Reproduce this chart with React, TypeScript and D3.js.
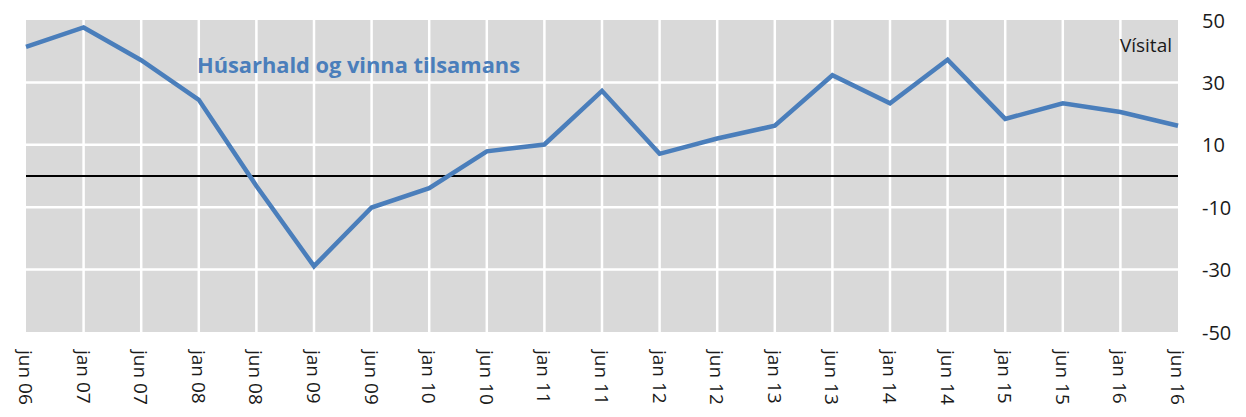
import React from 'react'
import * as d3 from 'd3'

// Vísital, hálvárligar mátingar
const categories = [
  'jun 06', 'jan 07', 'jun 07', 'jan 08', 'jun 08', 'jan 09', 'jun 09',
  'jan 10', 'jun 10', 'jan 11', 'jun 11', 'jan 12', 'jun 12', 'jan 13',
  'jun 13', 'jan 14', 'jun 14', 'jan 15', 'jun 15', 'jan 16', 'jun 16',
]
const values = [
  41.4, 47.6, 37.1, 24.4, -3.2, -28.9, -10.1,
  -3.9, 7.9, 10.1, 27.3, 7.1, 12.0, 16.1,
  32.3, 23.3, 37.3, 18.3, 23.3, 20.5, 16.1,
]
const yTicks = [50, 30, 10, -10, -30, -50]
const seriesLabel = 'Húsarhald og vinna tilsamans'
const unitLabel = 'Vísital'

const W = 1246
const H = 417
const plot = { left: 26, right: 1178, top: 20, bottom: 332 }
const font = '"Open Sans", "Liberation Sans", sans-serif'

export default function App() {
  const x = d3.scalePoint<string>().domain(categories).range([plot.left, plot.right])
  const y = d3.scaleLinear().domain([-50, 50]).range([plot.bottom, plot.top])

  const line = d3
    .line<number>()
    .x((_, i) => x(categories[i]) as number)
    .y((d) => y(d))

  return (
    <svg
      width={W}
      height={H}
      style={{ position: 'absolute', left: 0, top: 0, background: '#fff' }}
    >
      {/* plot background */}
      <rect
        x={plot.left}
        y={plot.top}
        width={plot.right - plot.left}
        height={plot.bottom - plot.top}
        fill="#d9d9d9"
      />

      {/* white grid */}
      <g stroke="#ffffff" strokeWidth={2.5}>
        {yTicks.slice(1, -1).map((t) => (
          <line key={t} x1={plot.left} x2={plot.right} y1={y(t)} y2={y(t)} />
        ))}
        {categories.slice(1, -1).map((c) => (
          <line key={c} x1={x(c)} x2={x(c)} y1={plot.top} y2={plot.bottom} />
        ))}
      </g>

      {/* zero line */}
      <line x1={plot.left} x2={plot.right} y1={y(0)} y2={y(0)} stroke="#000" strokeWidth={2} />

      {/* series */}
      <path
        d={line(values) || ''}
        fill="none"
        stroke="#4a7ebb"
        strokeWidth={4.5}
        strokeLinejoin="miter"
      />

      <text
        x={197}
        y={73}
        fontFamily={font}
        fontWeight="bold"
        fontSize={22}
        fill="#4a7ebb"
        textLength={323}
        lengthAdjust="spacingAndGlyphs"
      >
        {seriesLabel}
      </text>

      <text x={1172} y={52} textAnchor="end" fontFamily={font} fontSize={19} fill="#1a1a1a">
        {unitLabel}
      </text>

      {/* right axis */}
      {yTicks.map((t) => (
        <text
          key={t}
          x={1202}
          y={y(t)}
          dominantBaseline="central"
          fontFamily={font}
          fontSize={20}
          fill="#1a1a1a"
        >
          {t}
        </text>
      ))}

      {/* category labels, vertical */}
      {categories.map((c) => (
        <text
          key={c}
          transform={`translate(${x(c)},350) rotate(90)`}
          dominantBaseline="central"
          fontFamily={font}
          fontSize={19}
          fill="#1a1a1a"
        >
          {c}
        </text>
      ))}
    </svg>
  )
}
